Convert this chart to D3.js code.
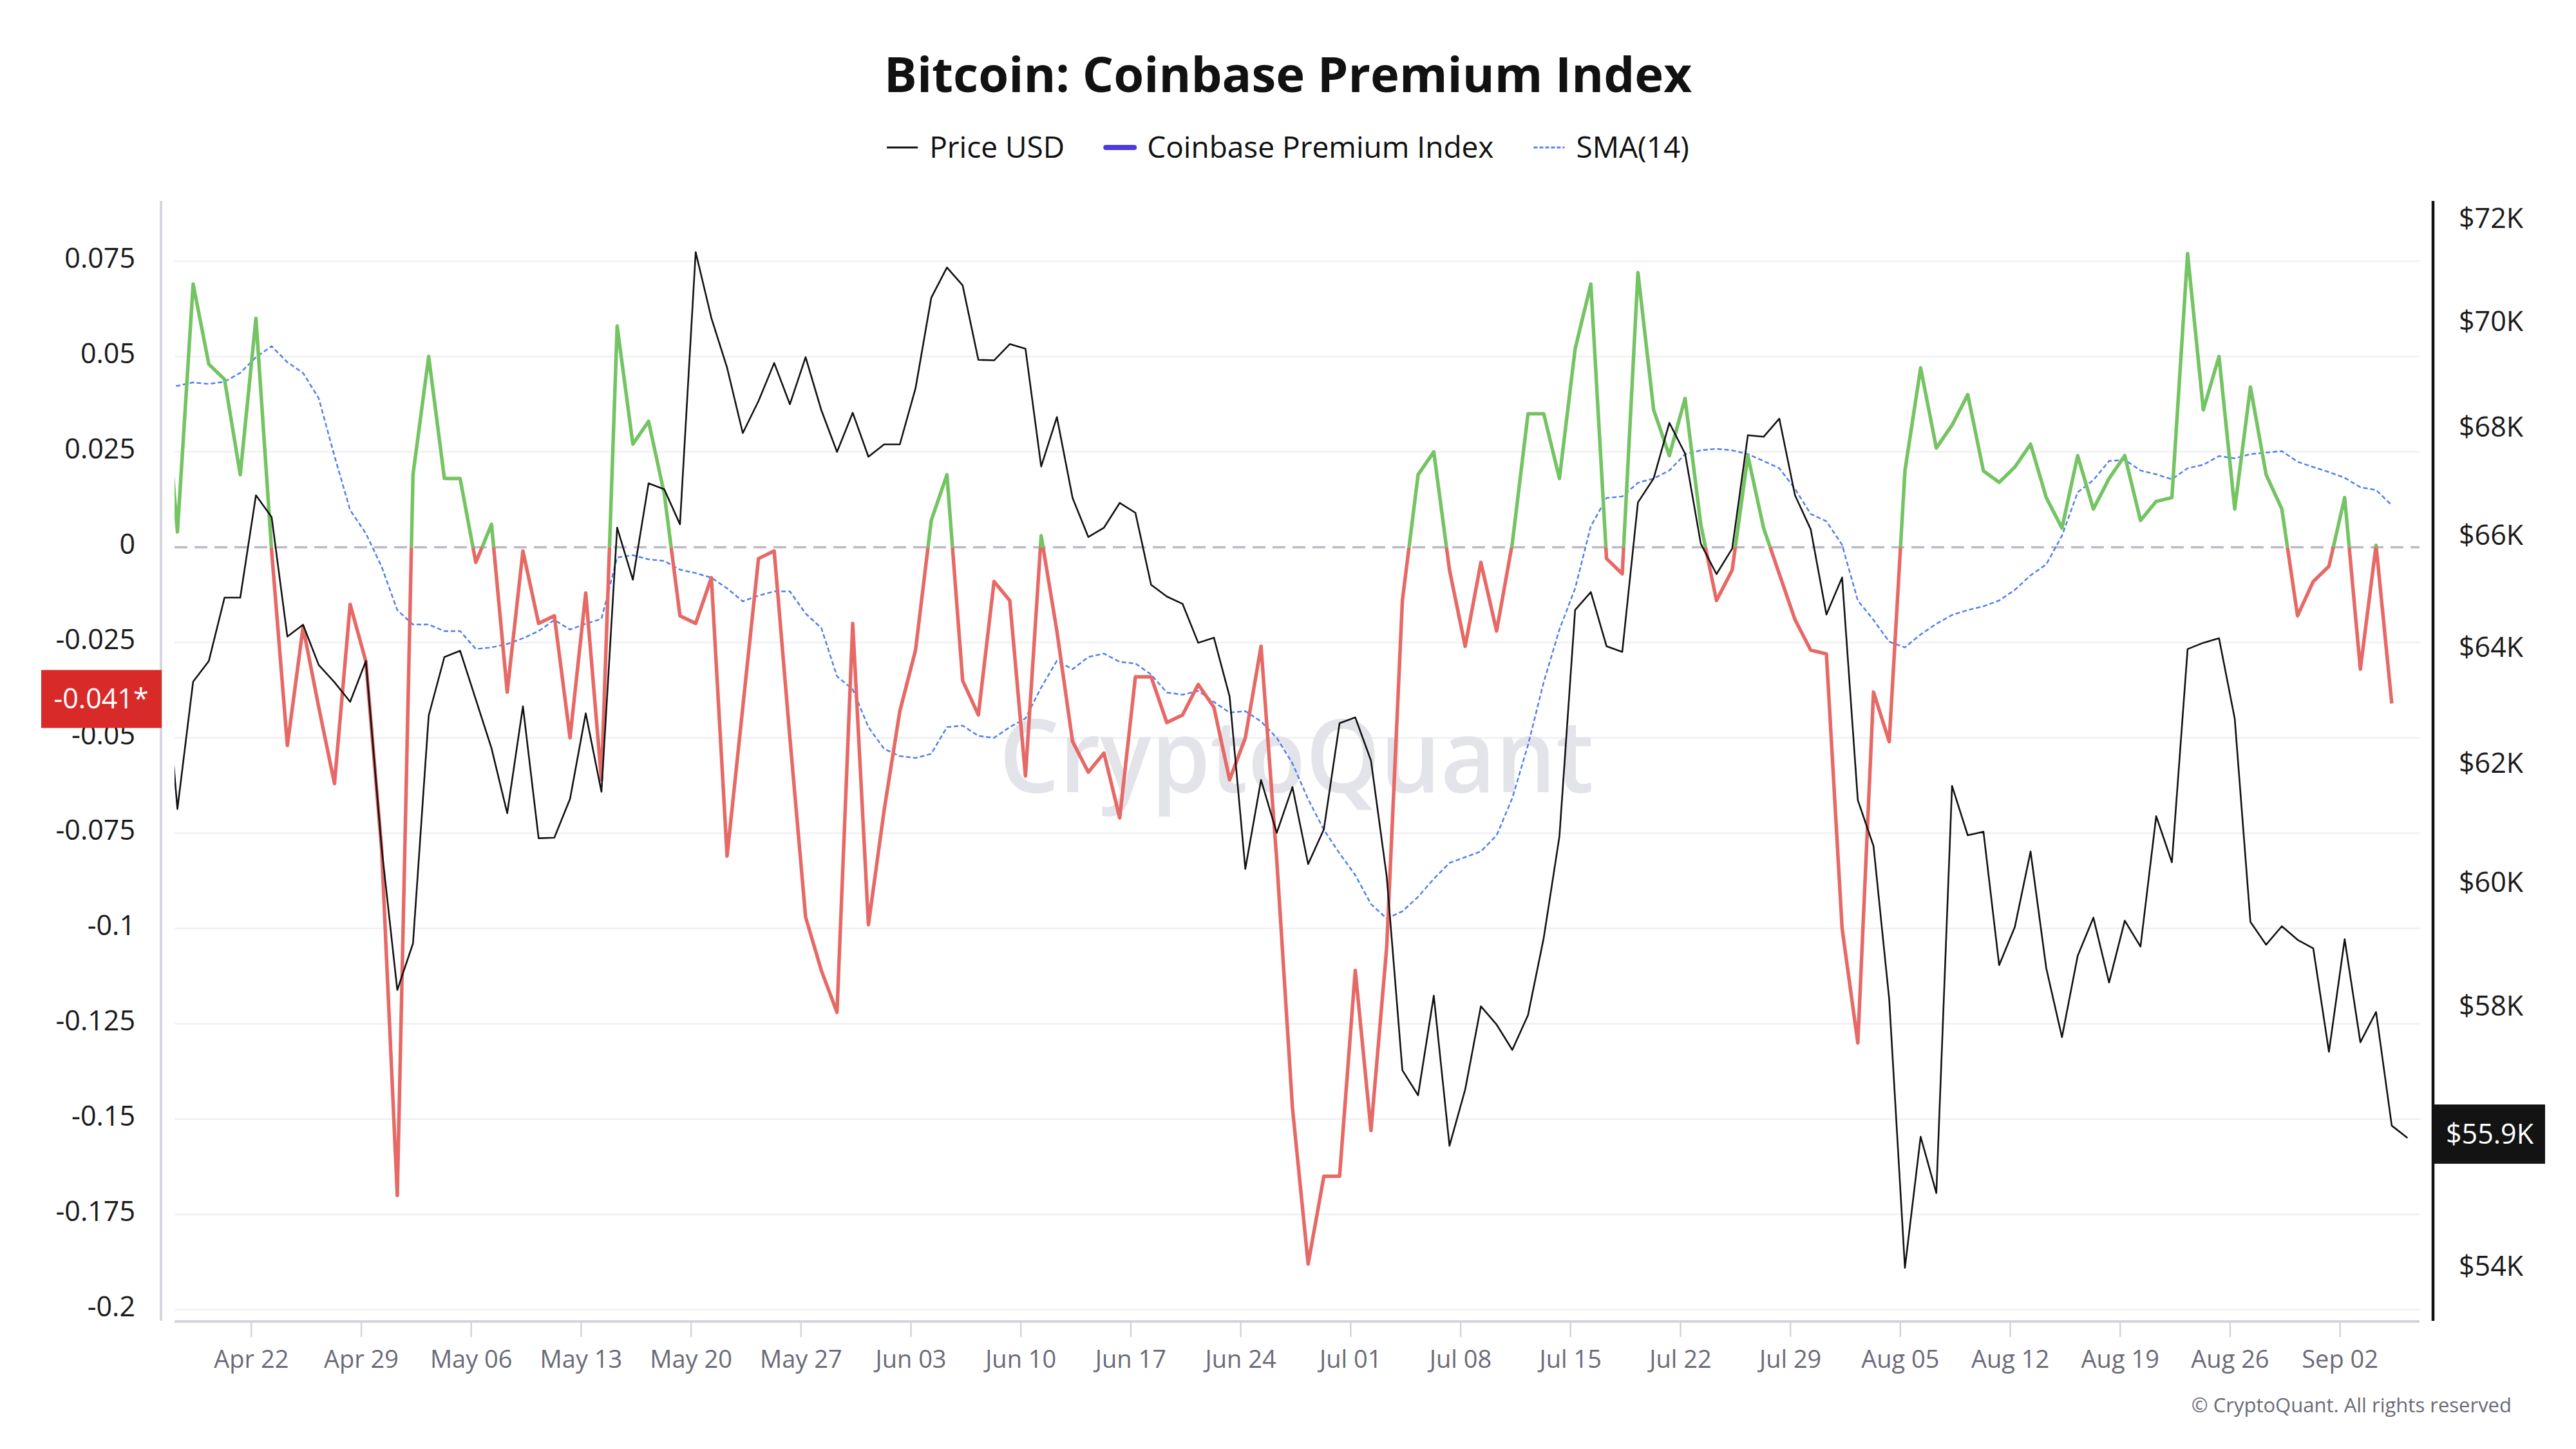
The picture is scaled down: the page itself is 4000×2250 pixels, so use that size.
<!DOCTYPE html>
<html><head><meta charset="utf-8">
<script src="https://cdn.jsdelivr.net/npm/d3@7"></script>
<style>html,body{margin:0;padding:0;background:#fff}svg{display:block}</style>
</head><body><svg id="chart" width="4000" height="2250"></svg>
<script>
// ---------------- DATA ----------------
const startDate = "2024-04-16";
// BTC daily price, Apr 16 -> Sep 6 2024
const priceUSD = [64440,
 61220,63400,63760,64880,64880,66730,66330,64190,64400,63690,63390,63050,63760,60580,58250,59000,62810,63830,63940,63090,
 62250,61150,62970,60730,60740,61390,62850,61510,66140,65200,66950,66840,66200,71340,70060,69110,67880,68480,69200,68420,
 69310,68310,67530,68260,67440,67670,67670,68720,70450,71040,70690,69260,69250,69560,69470,67260,68180,66680,65970,66140,
 66590,66410,65110,64900,64770,64080,64170,63140,60220,61710,60820,61590,60300,60880,62680,62780,62040,60100,56980,56590,
 58160,55810,56680,57990,57700,57300,57850,59090,60760,64660,64980,64020,63920,66600,67040,68070,67500,65850,65300,65760,
 67840,67810,68150,66730,66110,64580,65240,61370,60600,58100,53970,55950,55090,61610,60780,60840,58650,59270,60510,58600,
 57500,58800,59420,58370,59370,58950,61100,60330,63970,64080,64160,62760,59350,58980,59280,59060,58920,57270,59070,57420,
 57900,56120,55930];
// Coinbase Premium Index, Apr 16 -> Sep 5 2024
const premiumIndex = [0.054,
 0.004,0.069,0.048,0.044,0.019,0.060,-0.001,-0.052,-0.021,-0.042,-0.062,-0.015,-0.030,-0.079,-0.170,0.019,0.050,0.018,0.018,-0.004,
 0.006,-0.038,-0.001,-0.020,-0.018,-0.050,-0.012,-0.061,0.058,0.027,0.033,0.014,-0.018,-0.020,-0.008,-0.081,-0.042,-0.003,-0.001,-0.050,
 -0.097,-0.111,-0.122,-0.020,-0.099,-0.069,-0.043,-0.027,0.007,0.019,-0.035,-0.044,-0.009,-0.014,-0.060,0.003,-0.022,-0.051,-0.059,-0.054,
 -0.071,-0.034,-0.034,-0.046,-0.044,-0.036,-0.042,-0.061,-0.050,-0.026,-0.082,-0.147,-0.188,-0.165,-0.165,-0.111,-0.153,-0.105,-0.014,0.019,
 0.025,-0.006,-0.026,-0.004,-0.022,0.001,0.035,0.035,0.018,0.052,0.069,-0.003,-0.007,0.072,0.036,0.024,0.039,0.006,-0.014,-0.006,
 0.024,0.005,-0.007,-0.019,-0.027,-0.028,-0.100,-0.130,-0.038,-0.051,0.020,0.047,0.026,0.032,0.040,0.020,0.017,0.021,0.027,0.013,
 0.005,0.024,0.010,0.018,0.024,0.007,0.012,0.013,0.077,0.036,0.050,0.010,0.042,0.019,0.010,-0.018,-0.009,-0.005,0.013,-0.032,
 0.0005,-0.041];
// SMA(14) of the premium, Apr 16 -> Sep 5 2024
const sma14 = [0.0425,
 0.0423,0.0432,0.0428,0.0434,0.0457,0.0498,0.0527,0.0485,0.0457,0.0390,0.0239,0.0097,0.0036,-0.0051,-0.0165,-0.0203,-0.0203,-0.0220,-0.0220,-0.0267,
 -0.0263,-0.0254,-0.0239,-0.0220,-0.0191,-0.0216,-0.0201,-0.0188,-0.0027,-0.0021,-0.0032,-0.0036,-0.0059,-0.0068,-0.0080,-0.0108,-0.0142,-0.0127,-0.0116,-0.0116,
 -0.0174,-0.0212,-0.0339,-0.0373,-0.0472,-0.0529,-0.0548,-0.0553,-0.0542,-0.0472,-0.0468,-0.0495,-0.0500,-0.0472,-0.0449,-0.0368,-0.0298,-0.0320,-0.0288,-0.0279,
 -0.0301,-0.0305,-0.0334,-0.0381,-0.0387,-0.0377,-0.0406,-0.0434,-0.0430,-0.0457,-0.0500,-0.0567,-0.0661,-0.0741,-0.0803,-0.0860,-0.0936,-0.0974,-0.0955,-0.0917,
 -0.0870,-0.0828,-0.0813,-0.0798,-0.0756,-0.0658,-0.0519,-0.0354,-0.0216,-0.0108,0.0055,0.0129,0.0133,0.0169,0.0180,0.0201,0.0244,0.0254,0.0258,0.0254,
 0.0244,0.0226,0.0207,0.0153,0.0087,0.0068,0.0006,-0.0140,-0.0191,-0.0248,-0.0263,-0.0229,-0.0201,-0.0178,-0.0165,-0.0155,-0.0140,-0.0112,-0.0074,-0.0045,
 0.0030,0.0144,0.0176,0.0226,0.0229,0.0201,0.0191,0.0178,0.0207,0.0216,0.0239,0.0233,0.0244,0.0248,0.0252,0.0224,0.0210,0.0197,0.0182,0.0157,
 0.0150,0.0110];

const xTickLabels = ["Apr 22","Apr 29","May 06","May 13","May 20","May 27","Jun 03","Jun 10","Jun 17","Jun 24","Jul 01",
                     "Jul 08","Jul 15","Jul 22","Jul 29","Aug 05","Aug 12","Aug 19","Aug 26","Sep 02"];
const leftTicks = [0.075,0.05,0.025,0,-0.025,-0.05,-0.075,-0.1,-0.125,-0.15,-0.175,-0.2];
const leftTickLabels = ["0.075","0.05","0.025","0","-0.025","-0.05","-0.075","-0.1","-0.125","-0.15","-0.175","-0.2"];
const rightTicks = [54000,56000,58000,60000,62000,64000,66000,68000,70000,72000];
const rightTickLabels = ["$54K","$56K","$58K","$60K","$62K","$64K","$66K","$68K","$70K","$72K"];
const legendItems = ["Price USD","Coinbase Premium Index","SMA(14)"];
const titleText = "Bitcoin: Coinbase Premium Index";
const lastPremiumLabel = "-0.041*";
const lastPriceLabel = "$55.9K";

// ---------------- LAYOUT ----------------
const FONT = "'Open Sans', 'Noto Sans', sans-serif";
const plot = {left: 271, right: 3757, top: 312, bottom: 2051};
const svg = d3.select("#chart");
const parse = d3.utcParse("%Y-%m-%d");
const t0 = parse(startDate);
const priceDates = priceUSD.map((_, i) => d3.utcDay.offset(t0, i));
const premDates = premiumIndex.map((_, i) => d3.utcDay.offset(t0, i));

const x = d3.scaleUtc()
  .domain([d3.utcDay.offset(t0, 1), d3.utcDay.offset(t0, 143)])
  .range([275.5, 275.5 + 142 * 24.386]);
const yL = d3.scaleLinear().domain([-0.2029, 0.0908]).range([plot.bottom, plot.top]);
const yR = d3.scaleLog().domain([53190, 72350]).range([plot.bottom, plot.top]);

const defs = svg.append("defs");
defs.append("clipPath").attr("id", "clipPlot").append("rect")
  .attr("x", plot.left).attr("y", plot.top).attr("width", plot.right - plot.left).attr("height", plot.bottom - plot.top);
defs.append("clipPath").attr("id", "clipPos").append("rect")
  .attr("x", plot.left).attr("y", plot.top).attr("width", plot.right - plot.left).attr("height", yL(0) - plot.top);
defs.append("clipPath").attr("id", "clipNeg").append("rect")
  .attr("x", plot.left).attr("y", yL(0)).attr("width", plot.right - plot.left).attr("height", plot.bottom - yL(0));

// Title
svg.append("text").attr("x", 2000).attr("y", 143).attr("text-anchor", "middle")
  .attr("font-family", FONT).attr("font-weight", 700).attr("font-size", 76).attr("fill", "#111")
  .text(titleText);

// Legend
const legend = svg.append("g");
const legendMarkers = [
  g => g.append("line").attr("x1", 0).attr("x2", 48).attr("stroke", "#111").attr("stroke-width", 3),
  g => g.append("line").attr("x1", 2).attr("x2", 46).attr("stroke", "#4b3be2").attr("stroke-width", 8).attr("stroke-linecap", "round"),
  g => g.append("line").attr("x1", 0).attr("x2", 48).attr("stroke", "#5a86ee").attr("stroke-width", 3).attr("stroke-dasharray", "6,3")
];
let lx = 0;
legendItems.forEach((name, i) => {
  const g = legend.append("g").attr("transform", `translate(${lx},0)`);
  legendMarkers[i](g);
  const t = g.append("text").attr("x", 66).attr("y", 0).attr("dy", "0.35em")
    .attr("font-family", FONT).attr("font-size", 46).attr("fill", "#111").text(name);
  lx += 66 + t.node().getComputedTextLength() + 62;
});
const legendW = lx - 62;
legend.attr("transform", `translate(${2000 - legendW / 2},229)`);

// Gridlines
const grid = svg.append("g");
grid.selectAll("line").data(leftTicks.filter(v => v !== 0)).join("line")
  .attr("x1", plot.left).attr("x2", plot.right)
  .attr("y1", d => yL(d)).attr("y2", d => yL(d))
  .attr("stroke", "#f0f0f4").attr("stroke-width", 2.5);

// Watermark
svg.append("text").attr("x", 2013).attr("y", 1230).attr("text-anchor", "middle")
  .attr("font-family", FONT).attr("font-weight", 600).attr("font-size", 158)
  .attr("fill", "#e3e3ea").attr("textLength", 923).attr("lengthAdjust", "spacingAndGlyphs")
  .text("CryptoQuant");

// Zero dashed line
svg.append("line").attr("x1", plot.left).attr("x2", plot.right).attr("y1", yL(0)).attr("y2", yL(0))
  .attr("stroke", "#bdbac8").attr("stroke-width", 3.5).attr("stroke-dasharray", "20,11");

// Axes lines
svg.append("line").attr("x1", 250).attr("x2", 250).attr("y1", plot.top).attr("y2", plot.bottom)
  .attr("stroke", "#d7d5df").attr("stroke-width", 4);
svg.append("line").attr("x1", plot.left).attr("x2", plot.right).attr("y1", plot.bottom + 1).attr("y2", plot.bottom + 1)
  .attr("stroke", "#d4d2dc").attr("stroke-width", 4);
svg.append("line").attr("x1", 3778).attr("x2", 3778).attr("y1", plot.top).attr("y2", plot.bottom)
  .attr("stroke", "#111").attr("stroke-width", 4.5);

// X axis ticks & labels
const xTickDates = xTickLabels.map(s => d3.utcParse("%b %d %Y")(s + " 2024"));
const tickShift = d => d3.utcHour.offset(d, -7);
const xt = svg.append("g");
xt.selectAll("line").data(xTickDates).join("line")
  .attr("x1", d => x(tickShift(d))).attr("x2", d => x(tickShift(d)))
  .attr("y1", plot.bottom + 3).attr("y2", plot.bottom + 25)
  .attr("stroke", "#d4d2dc").attr("stroke-width", 2.5);
xt.selectAll("text").data(xTickDates).join("text")
  .attr("x", d => x(tickShift(d))).attr("y", 2124).attr("text-anchor", "middle")
  .attr("font-family", FONT).attr("font-size", 38).attr("fill", "#6b6b78")
  .text((d, i) => xTickLabels[i]);

// Left axis labels
svg.append("g").selectAll("text").data(leftTicks).join("text")
  .attr("x", 210).attr("y", d => yL(d) - 5).attr("dy", "0.35em").attr("text-anchor", "end")
  .attr("font-family", FONT).attr("font-size", 43).attr("fill", "#1a1a1a")
  .text((d, i) => leftTickLabels[i]);

// Right axis labels (the one hidden under the last-price badge is skipped)
const lastPrice = priceUSD[priceUSD.length - 1];
const badgeY = yR(lastPrice) - 6;
const rightShown = rightTicks.map((v, i) => ({v, label: rightTickLabels[i]}))
  .filter(d => Math.abs(yR(d.v) - badgeY) > 60);
svg.append("g").selectAll("text").data(rightShown).join("text")
  .attr("x", 3818).attr("y", d => yR(d.v)).attr("dy", "0.35em").attr("text-anchor", "start")
  .attr("font-family", FONT).attr("font-size", 43).attr("fill", "#1a1a1a")
  .text(d => d.label);

// Series
const plotG = svg.append("g").attr("clip-path", "url(#clipPlot)");
const smaLine = d3.line().x((d, i) => x(premDates[i])).y(d => yL(d));
plotG.append("path").datum(sma14).attr("d", smaLine)
  .attr("fill", "none").attr("stroke", "#4f7ff0").attr("stroke-width", 2.5).attr("stroke-dasharray", "7,4");

const premLine = d3.line().x((d, i) => x(premDates[i])).y(d => yL(d));
plotG.append("g").attr("clip-path", "url(#clipPos)").append("path").datum(premiumIndex).attr("d", premLine)
  .attr("fill", "none").attr("stroke", "#74c463").attr("stroke-width", 5.5).attr("stroke-linejoin", "round");
plotG.append("g").attr("clip-path", "url(#clipNeg)").append("path").datum(premiumIndex).attr("d", premLine)
  .attr("fill", "none").attr("stroke", "#e66966").attr("stroke-width", 5.5).attr("stroke-linejoin", "round");

const priceLine = d3.line().x((d, i) => x(priceDates[i])).y(d => yR(d));
plotG.append("path").datum(priceUSD).attr("d", priceLine)
  .attr("fill", "none").attr("stroke", "#111").attr("stroke-width", 2.6).attr("stroke-linejoin", "round");

// Last value badges
const lastPrem = premiumIndex[premiumIndex.length - 1];
const bL = svg.append("g").attr("transform", `translate(0,${yL(lastPrem) - 7})`);
bL.append("rect").attr("x", 64).attr("y", -45).attr("width", 187).attr("height", 90).attr("fill", "#d92a2a");
bL.append("text").attr("x", 157).attr("y", 0).attr("dy", "0.35em").attr("text-anchor", "middle")
  .attr("font-family", FONT).attr("font-size", 43).attr("fill", "#fff").text(lastPremiumLabel);

const bR = svg.append("g").attr("transform", `translate(0,${badgeY})`);
bR.append("rect").attr("x", 3780).attr("y", -46).attr("width", 172).attr("height", 92).attr("fill", "#131313");
bR.append("text").attr("x", 3866).attr("y", 0).attr("dy", "0.35em").attr("text-anchor", "middle")
  .attr("font-family", FONT).attr("font-size", 43).attr("fill", "#fff").text(lastPriceLabel);

// Copyright
svg.append("text").attr("x", 3900).attr("y", 2193).attr("text-anchor", "end")
  .attr("font-family", FONT).attr("font-size", 31).attr("fill", "#6b6b75")
  .text("© CryptoQuant. All rights reserved");
</script></body></html>
